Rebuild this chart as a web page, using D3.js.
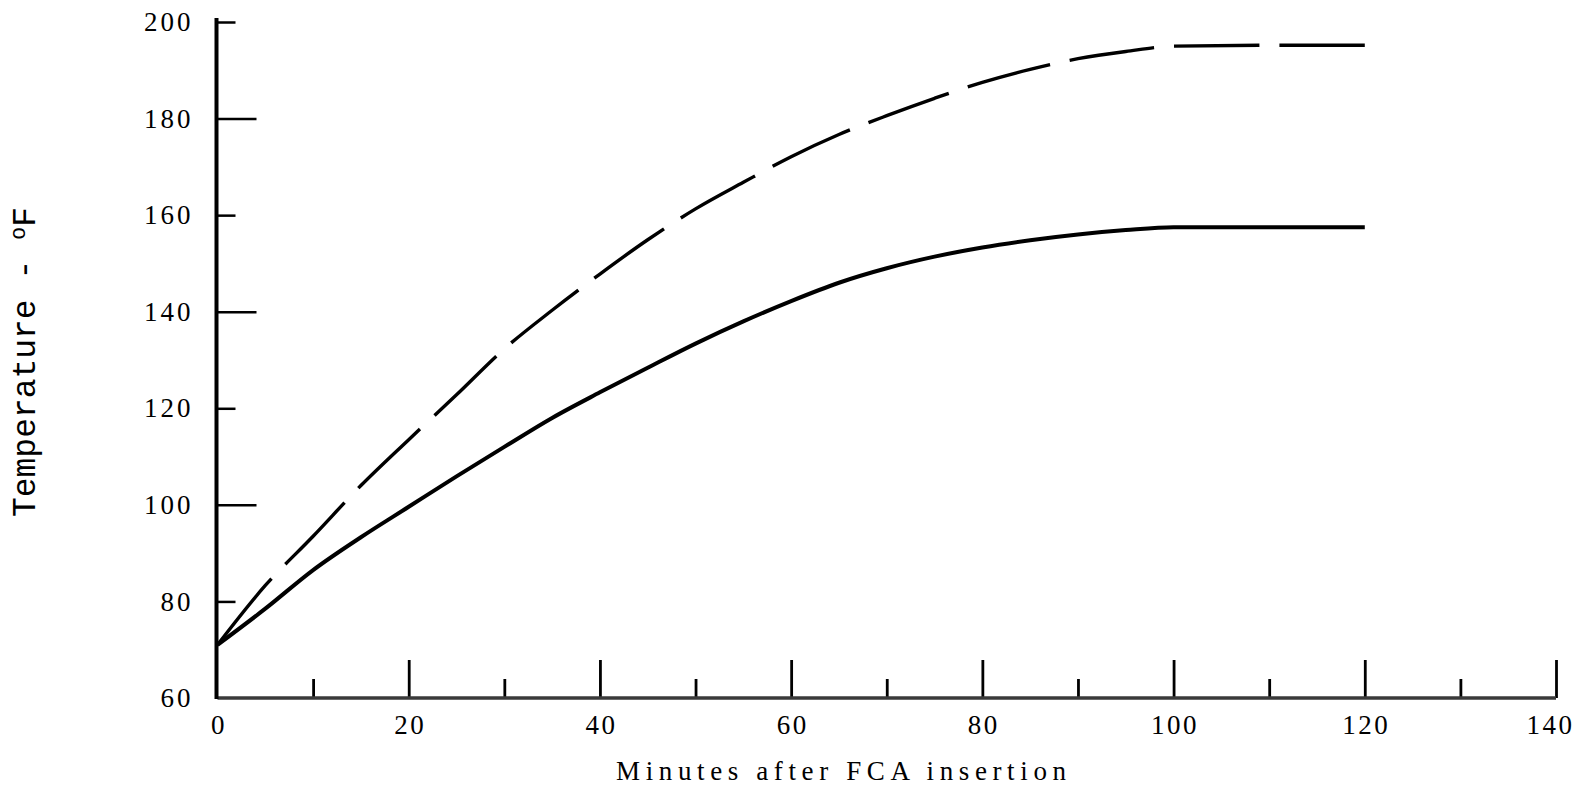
<!DOCTYPE html>
<html>
<head>
<meta charset="utf-8">
<script src="https://cdn.jsdelivr.net/npm/d3@7"></script>
<style>
  body { margin: 0; background: #fff; }
  svg { display: block; }
</style>
</head>
<body>
<script>
// minutes after FCA insertion
const minutes = [0, 5, 10, 15, 20, 25, 30, 35, 40, 45, 50, 55, 60, 65, 70, 75, 80, 85, 90, 95, 100, 110, 120];
// lower curve (solid)
const solidTemp = [71, 78.5, 86.5, 93.3, 99.6, 105.9, 112, 118, 123.3, 128.4, 133.4, 138, 142.2, 146, 149, 151.4, 153.3, 154.8, 156, 156.9, 157.5, 157.5, 157.5];
// upper curve (dashed)
const dashedTemp = [71, 83.3, 93.5, 104, 113.5, 122.8, 132.3, 140.3, 147.8, 154.9, 161.3, 166.8, 172.1, 176.7, 180.6, 184.2, 187.5, 190.2, 192.4, 193.9, 195, 195.2, 195.2];

const xMajor = [0, 20, 40, 60, 80, 100, 120, 140];
const xMinor = [10, 30, 50, 70, 90, 110, 130];
const yTicks = [60, 80, 100, 120, 140, 160, 180, 200];
const yLong = [100, 140, 180];

const width = 1581, height = 796;

const x = d3.scaleLinear().domain([0, 140]).range([217.5, 1556]);
const y = d3.scaleLinear().domain([60, 200]).range([698, 22]);

const svg = d3.select("body").append("svg")
    .attr("width", width)
    .attr("height", height)
    .style("background", "#fff");

// x axis, big ticks with labels
const xAx = svg.append("g")
    .attr("transform", `translate(0,${y(60)})`)
    .call(d3.axisBottom(x).tickValues(xMajor).tickSizeInner(-38).tickSizeOuter(0).tickPadding(17));
xAx.select(".domain").remove();
xAx.selectAll(".tick line").attr("stroke", "#000").attr("stroke-width", 2.8)
    .filter(d => d === 0).remove();
xAx.selectAll(".tick text")
    .attr("font-family", "'Liberation Serif', serif")
    .attr("font-size", 27)
    .attr("letter-spacing", 2.5)
    .attr("dx", d => d === 140 ? -6 : 1)
    .attr("fill", "#000");

// small ticks
const xMin = svg.append("g")
    .attr("transform", `translate(0,${y(60)})`)
    .call(d3.axisBottom(x).tickValues(xMinor).tickSizeInner(-19).tickSizeOuter(0).tickFormat(""));
xMin.select(".domain").remove();
xMin.selectAll(".tick line").attr("stroke", "#000").attr("stroke-width", 2.8);

// y axis
const yAx = svg.append("g")
    .attr("transform", `translate(${x(0)},0)`)
    .call(d3.axisLeft(y).tickValues(yTicks).tickSizeInner(-18).tickSizeOuter(0).tickPadding(27));
yAx.select(".domain").remove();
yAx.selectAll(".tick line")
    .attr("stroke", "#000")
    .attr("stroke-width", 2.5)
    .attr("x2", d => yLong.includes(d) ? 39 : 18);
yAx.selectAll(".tick line").filter(d => d === 60).remove();
yAx.selectAll(".tick text")
    .attr("font-family", "'Liberation Serif', serif")
    .attr("font-size", 27)
    .attr("letter-spacing", 3)
    .attr("dx", 3)
    .attr("fill", "#000");

// axis lines
svg.append("line")
    .attr("x1", x(0)).attr("x2", x(140))
    .attr("y1", y(60)).attr("y2", y(60))
    .attr("stroke", "#3a3a3a").attr("stroke-width", 3.5);
svg.append("line")
    .attr("x1", x(0) - 1).attr("x2", x(0) - 1)
    .attr("y1", y(60) + 1).attr("y2", y(200) - 4)
    .attr("stroke", "#000").attr("stroke-width", 4);

// curves
const line = d3.line()
    .x(d => x(d[0]))
    .y(d => y(d[1]))
    .curve(d3.curveMonotoneX);

const dashed = svg.append("path")
    .datum(minutes.map((m, i) => [m, dashedTemp[i]]))
    .attr("fill", "none")
    .attr("stroke", "#000")
    .attr("stroke-width", 3.4)
    .attr("d", line);

// dash pattern fitted so the curve starts and ends on a dash
const gap = 20;
const len = dashed.node().getTotalLength();
const n = Math.round((len + gap) / 104);
const period = (len + gap) / n;
dashed.attr("stroke-dasharray", `${period - gap},${gap}`);

svg.append("path")
    .datum(minutes.map((m, i) => [m, solidTemp[i]]))
    .attr("fill", "none")
    .attr("stroke", "#000")
    .attr("stroke-width", 4)
    .attr("d", line);

// axis titles
svg.append("text")
    .attr("x", 616)
    .attr("y", 780)
    .attr("textLength", 450)
    .attr("lengthAdjust", "spacing")
    .attr("font-family", "'Liberation Serif', serif")
    .attr("font-size", 27)
    .attr("fill", "#000")
    .text("Minutes after FCA insertion");

const yt = svg.append("text")
    .attr("transform", "translate(35,517) rotate(-90)")
    .attr("textLength", 310)
    .attr("lengthAdjust", "spacing")
    .attr("font-family", "'Liberation Mono', monospace")
    .attr("font-size", 33)
    .attr("fill", "#000");
yt.append("tspan").text("Temperature - ");
yt.append("tspan").attr("font-size", 22).attr("dy", -10).text("o");
yt.append("tspan").attr("dy", 10).text("F");
</script>
</body>
</html>
